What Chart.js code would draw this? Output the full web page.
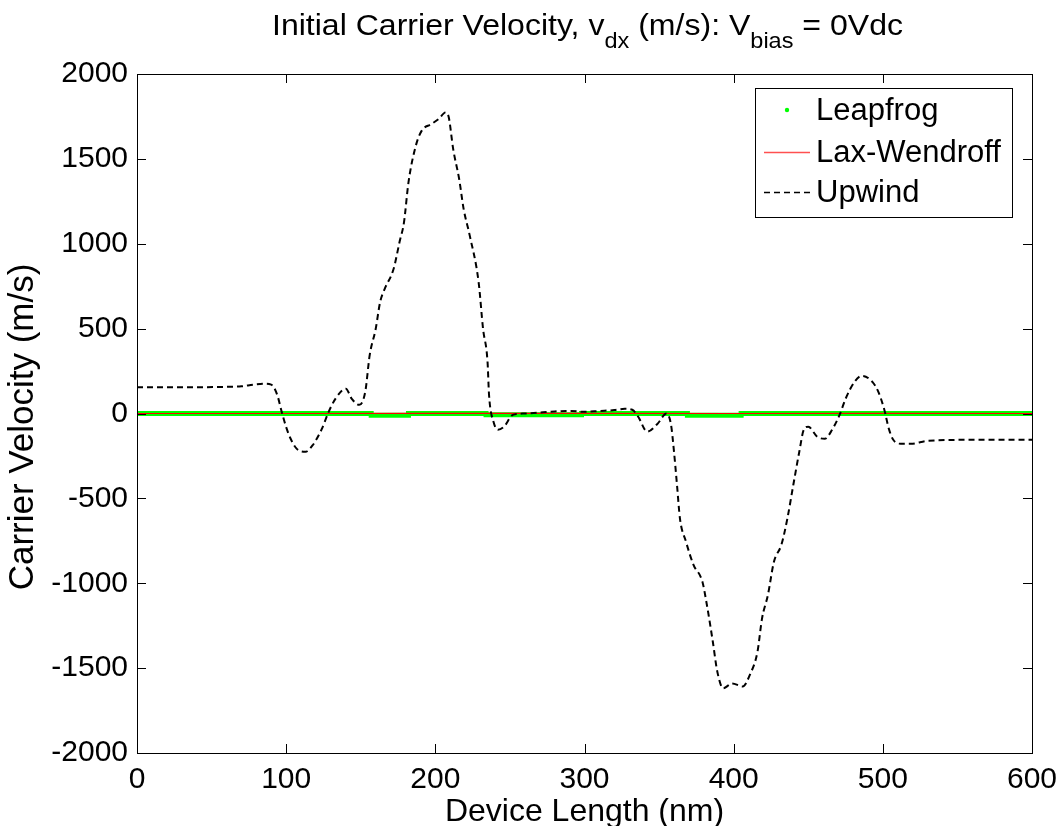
<!DOCTYPE html>
<html>
<head>
<meta charset="utf-8">
<script src="https://cdn.jsdelivr.net/npm/chart.js@4"></script>
<style>
  html, body { margin: 0; padding: 0; background: #fff; }
</style>
</head>
<body>
<canvas id="chart" width="1063" height="826"></canvas>
<script>
// --- data ---
var seriesNames = ["Leapfrog", "Lax-Wendroff", "Upwind"];

var leapfrogX = [0, 157, 182, 234, 298, 369, 405, 600];
var leapfrogY = [0, -10, 0, -8, 0, -10, 0, 0];

var laxX = [0, 100, 200, 300, 400, 500, 600];
var laxY = [0, 0, 1, 1, 0, 1, 0];

var upwindX = [0, 20, 40, 60, 70, 78, 85, 90, 94, 97, 100, 103, 107, 113, 118, 124, 128, 133, 140, 144,
  149, 153, 156, 160, 163, 166, 172, 176, 179, 182, 187, 191, 197, 202, 207, 209, 212, 216, 219, 223,
  229, 232, 235, 236, 239, 242, 246, 252, 260, 270, 280, 290, 300, 310, 320, 327, 332, 336, 342, 349,
  355, 358, 360, 362, 364, 368, 373, 379, 382, 386, 389, 393, 399, 406, 411, 416, 419, 423, 427, 432,
  436, 440, 444, 447, 450, 456, 461, 466, 471, 475, 481, 486, 493, 497, 501, 504, 507, 512, 519, 530,
  560, 600];
var upwindY = [155, 155, 155, 157, 160, 170, 175, 170, 110, 10, -80, -149, -207, -225, -184, -89, 0, 86, 146, 86,
  51, 127, 344, 498, 657, 733, 851, 1010, 1127, 1362, 1580, 1668, 1703, 1733, 1774, 1745, 1556, 1380, 1204, 1051,
  775, 498, 304, 110, -49, -96, -78, -8, 0, 5, 12, 15, 10, 15, 20, 28, 22, -19, -107, -60,
  0, -66, -225, -420, -619, -754, -890, -990, -1125, -1343, -1519, -1619, -1590, -1608, -1537, -1402, -1208, -1067, -873, -773,
  -619, -420, -225, -96, -78, -137, -149, -96, -8, 86, 186, 222, 186, 127, 22, -89, -155, -178, -178, -161,
  -155, -155];

var xTicks = [0, 100, 200, 300, 400, 500, 600];
var yTicks = [-2000, -1500, -1000, -500, 0, 500, 1000, 1500, 2000];

var titleParts = [
  { text: "Initial Carrier Velocity, v", sub: false },
  { text: "dx", sub: true },
  { text: " (m/s): V", sub: false },
  { text: "bias", sub: true },
  { text: " = 0Vdc", sub: false }
];
var xTitle = "Device Length (nm)";
var yTitle = "Carrier Velocity (m/s)";

var FONT = '"Liberation Sans", Arial, sans-serif';

function pairs(xs, ys) {
  var out = [];
  for (var i = 0; i < xs.length; i++) out.push({ x: xs[i], y: ys[i] });
  return out;
}

// title with subscripts, squeezed to the width of the original
var titlePlugin = {
  id: "matlabTitle",
  afterDraw: function(chart) {
    var ctx = chart.ctx, total = 0, widths = [];
    ctx.save();
    titleParts.forEach(function(p) {
      ctx.font = (p.sub ? 22 : 30) + "px " + FONT;
      var w = ctx.measureText(p.text).width;
      widths.push(w);
      total += w;
    });
    var target = 631;
    var sx = target / total;
    var left = 272;
    ctx.translate(left, 0);
    ctx.scale(sx, 1);
    ctx.fillStyle = "#000";
    ctx.textBaseline = "alphabetic";
    ctx.textAlign = "left";
    var x = 0;
    titleParts.forEach(function(p, i) {
      ctx.font = (p.sub ? 22 : 30) + "px " + FONT;
      ctx.fillText(p.text, x, p.sub ? 48 : 35);
      x += widths[i];
    });
    // y axis label, rotated
    ctx.restore();
    ctx.save();
    ctx.translate(33, 427);
    ctx.rotate(-Math.PI / 2);
    ctx.font = "35px " + FONT;
    ctx.fillStyle = "#000";
    ctx.textAlign = "center";
    ctx.textBaseline = "alphabetic";
    ctx.fillText(yTitle, 0, 0);
    ctx.restore();
  }
};

// box around the axes and inward tick marks on all four sides
var boxPlugin = {
  id: "axesBox",
  afterDatasetsDraw: function(chart) {
    var ctx = chart.ctx, a = chart.chartArea, len = 9;
    var xs = chart.scales.x, ys = chart.scales.y;
    ctx.save();
    ctx.strokeStyle = "#000";
    ctx.lineWidth = 1;
    ctx.beginPath();
    ctx.rect(a.left + 0.5, a.top + 0.5, a.right - a.left, a.bottom - a.top);
    xTicks.forEach(function(v) {
      var px = Math.round(xs.getPixelForValue(v)) + 0.5;
      ctx.moveTo(px, a.bottom); ctx.lineTo(px, a.bottom - len);
      ctx.moveTo(px, a.top); ctx.lineTo(px, a.top + len);
    });
    yTicks.forEach(function(v) {
      var py = Math.round(ys.getPixelForValue(v)) + 0.5;
      ctx.moveTo(a.left, py); ctx.lineTo(a.left + len, py);
      ctx.moveTo(a.right, py); ctx.lineTo(a.right - len, py);
    });
    ctx.stroke();
    ctx.restore();
  }
};

// legend box in the upper right corner
var legendPlugin = {
  id: "matlabLegend",
  afterDraw: function(chart) {
    var ctx = chart.ctx;
    var bx = 755, by = 88, bw = 257, bh = 129;
    ctx.save();
    ctx.fillStyle = "#fff";
    ctx.fillRect(bx, by, bw, bh);
    ctx.strokeStyle = "#000";
    ctx.lineWidth = 1;
    ctx.strokeRect(bx + 0.5, by + 0.5, bw, bh);
    ctx.font = "31px " + FONT;
    ctx.textBaseline = "middle";
    ctx.fillStyle = "#000";
    var rows = [110, 152, 192];
    var sets = chart.data.datasets;
    rows.forEach(function(y, i) {
      var ds = sets[i];
      if (i === 0) {
        ctx.fillStyle = ds.borderColor;
        ctx.beginPath();
        ctx.arc(787, y, 2.2, 0, Math.PI * 2);
        ctx.fill();
      } else {
        ctx.strokeStyle = i === 1 ? "#ff5050" : ds.borderColor;
        ctx.lineWidth = 1.5;
        ctx.setLineDash(ds.borderDash || []);
        ctx.beginPath();
        ctx.moveTo(764, y + 0.5);
        ctx.lineTo(810, y + 0.5);
        ctx.stroke();
        ctx.setLineDash([]);
      }
      ctx.fillStyle = "#000";
      ctx.fillText(seriesNames[i], 816, y + 1);
    });
    ctx.restore();
  }
};

new Chart(document.getElementById("chart"), {
  type: "line",
  data: {
    datasets: [
      {
        label: seriesNames[0],
        data: pairs(leapfrogX, leapfrogY),
        borderColor: "#00ff00",
        backgroundColor: "#00ff00",
        borderWidth: 5,
        stepped: true,
        pointRadius: 0,
        order: 2
      },
      {
        label: seriesNames[1],
        data: pairs(laxX, laxY),
        borderColor: "#ff0000",
        borderWidth: 1.2,
        pointRadius: 0,
        order: 1
      },
      {
        label: seriesNames[2],
        data: pairs(upwindX, upwindY),
        borderColor: "#000000",
        borderWidth: 2,
        borderDash: [6, 4],
        cubicInterpolationMode: "monotone",
        pointRadius: 0,
        order: 0
      }
    ]
  },
  options: {
    responsive: false,
    animation: false,
    devicePixelRatio: 1,
    layout: { padding: { top: 74, right: 31, left: 0, bottom: 0 } },
    plugins: {
      legend: { display: false },
      tooltip: { enabled: false },
      title: { display: false }
    },
    scales: {
      x: {
        type: "linear",
        min: 0,
        max: 600,
        afterBuildTicks: function(scale) {
          scale.ticks = xTicks.map(function(v) { return { value: v }; });
        },
        afterFit: function(scale) { scale.height = 73; },
        grid: { display: false },
        border: { display: true, color: "#000", width: 1 },
        ticks: {
          color: "#000",
          font: { family: FONT, size: 30 },
          padding: 1,
          maxRotation: 0,
          callback: function(v) { return String(v); }
        },
        title: {
          display: true,
          text: xTitle,
          color: "#000",
          font: { family: FONT, size: 32, lineHeight: 0.84 },
          padding: 0
        }
      },
      y: {
        min: -2000,
        max: 2000,
        afterBuildTicks: function(scale) {
          scale.ticks = yTicks.map(function(v) { return { value: v }; });
        },
        afterFit: function(scale) { scale.width = 137; },
        grid: { display: false },
        border: { display: true, color: "#000", width: 1 },
        ticks: {
          color: "#000",
          font: { family: FONT, size: 30 },
          padding: 1,
          callback: function(v) { return String(v); }
        },
        title: { display: false }
      }
    }
  },
  plugins: [boxPlugin, titlePlugin, legendPlugin]
});
</script>
</body>
</html>
